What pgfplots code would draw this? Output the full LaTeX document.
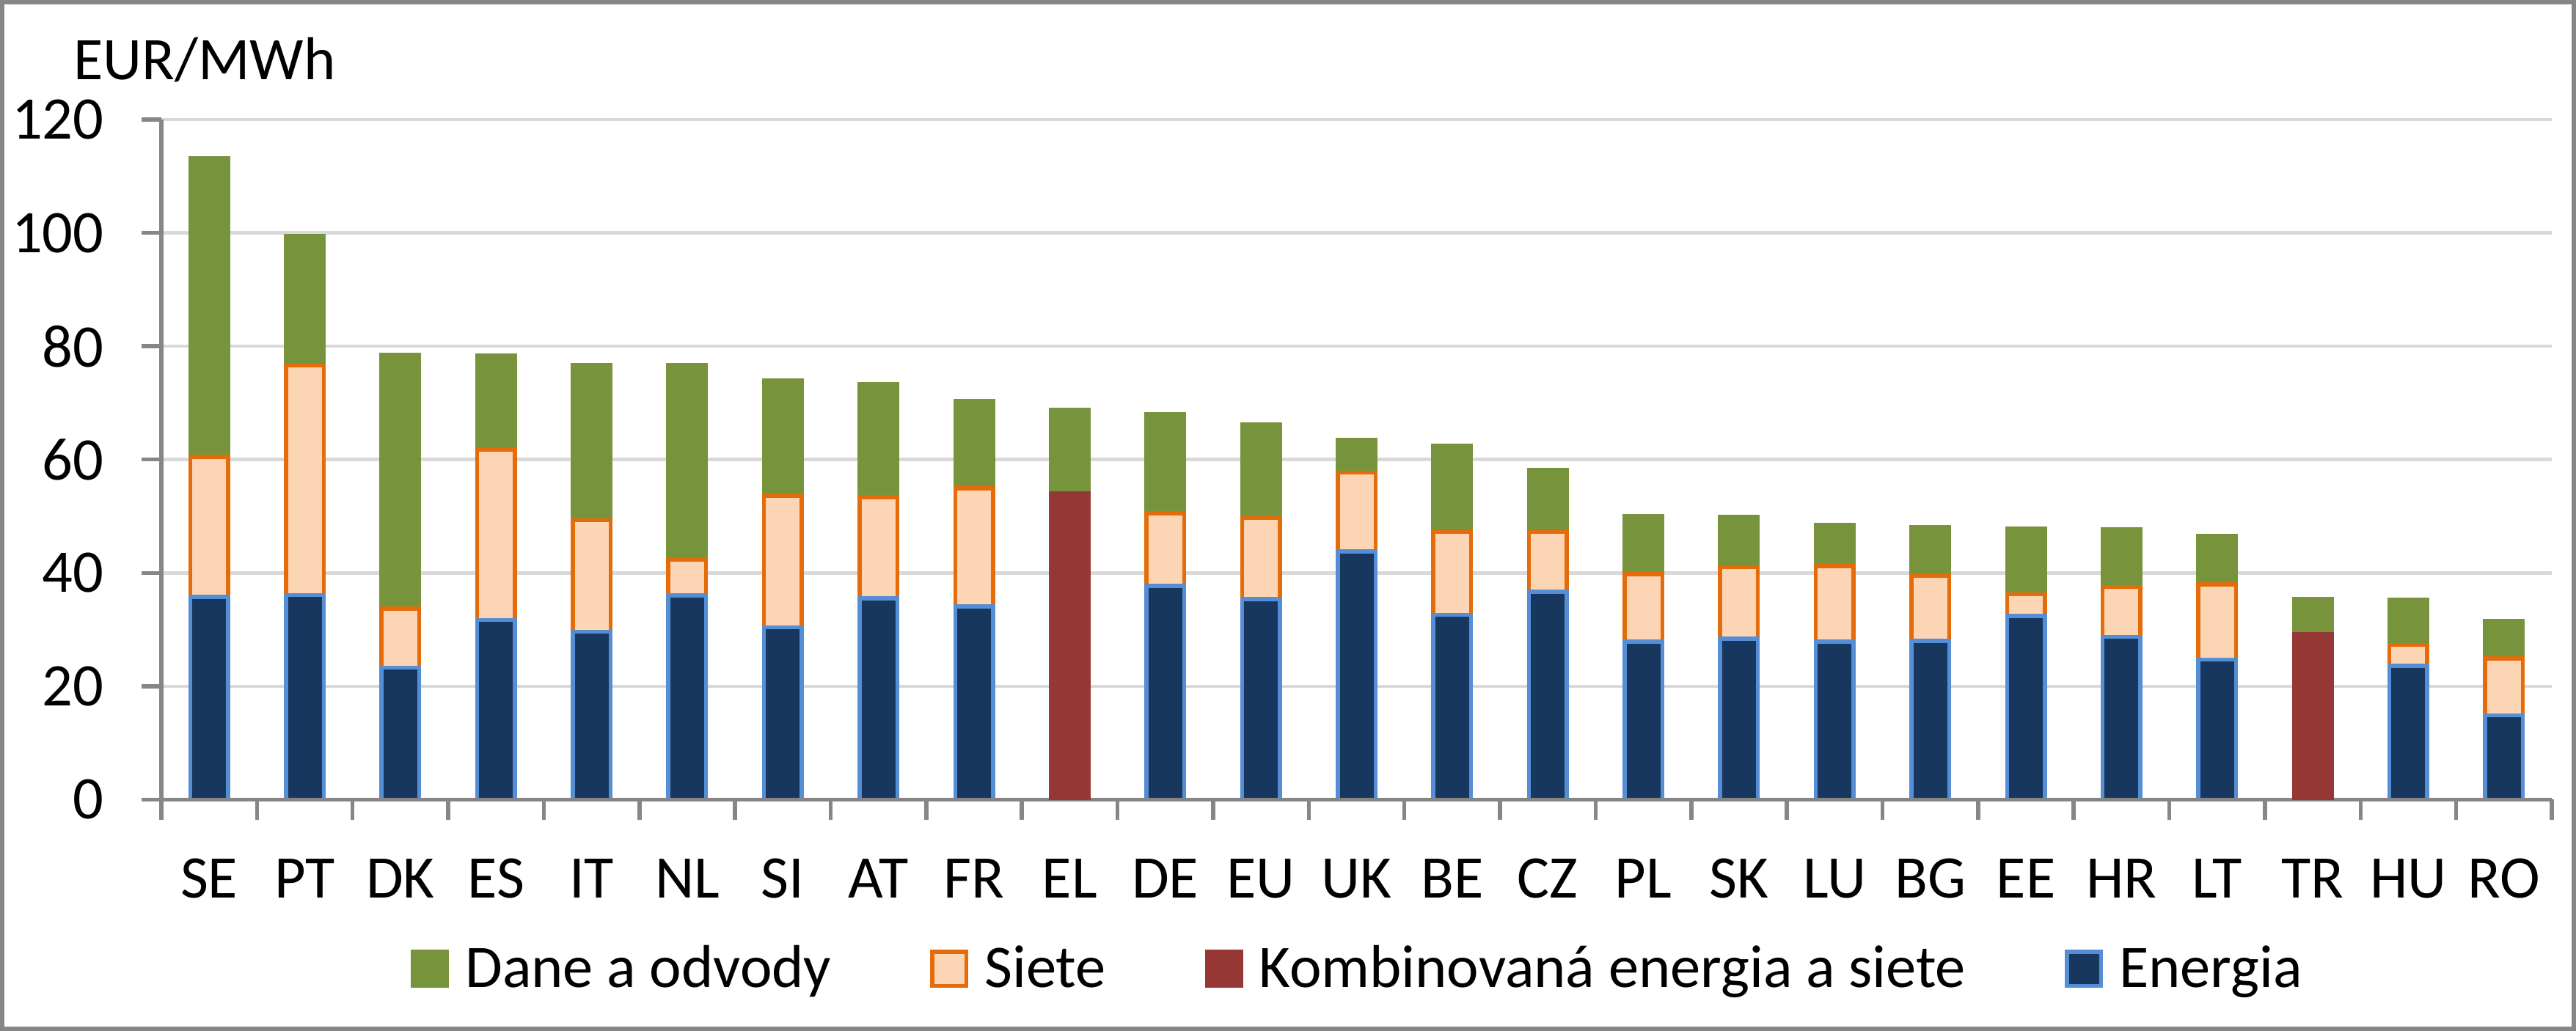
\documentclass[border=0pt]{standalone}
\usepackage{pgfplots}
\pgfplotsset{compat=1.18}
\usepackage{pgfplotstable}
\usepackage{fontspec}
\setmainfont{Carlito}
\definecolor{dgreen}{HTML}{77933C}
\definecolor{peach}{HTML}{FCD5B5}
\definecolor{dorange}{HTML}{E46C0A}
\definecolor{dred}{HTML}{953735}
\definecolor{navy}{HTML}{17375E}
\definecolor{lblue}{HTML}{558ED5}
\definecolor{axisgray}{HTML}{868686}
\definecolor{gridgray}{HTML}{D9D9D9}

% x E(Energia) S(Siete) D(Dane a odvody)
\pgfplotstableread{
x E S D
0 35.8 24.7 52.7
1 36.1 40.5 22.9
2 23.3 10.4 44.8
3 31.7 30.1 16.6
4 29.6 19.7 27.4
5 36.0 6.3 34.4
6 30.4 23.2 20.4
7 35.5 17.9 19.9
8 34.1 20.8 15.4
10 37.7 12.8 17.5
11 35.4 14.3 16.5
12 43.8 13.9 5.8
13 32.6 14.6 15.2
14 36.7 10.5 11.0
15 27.9 11.9 10.2
16 28.4 12.6 8.9
17 27.9 13.3 7.3
18 28.0 11.5 8.6
19 32.4 3.8 11.6
20 28.7 8.8 10.2
21 24.7 13.3 8.5
23 23.6 3.7 8.0
24 14.9 10.0 6.6
}\mainT
% x K(Kombinovana energia a siete) D(Dane a odvody)
\pgfplotstableread{
x K D
9 54.1 14.7
22 29.2 6.2
}\combT

\begin{document}
\begin{tikzpicture}[font=\fontsize{16.5}{19.8}\selectfont]
\draw[axisgray, line width=1.2pt] (0.6pt,0.6pt) rectangle (701.8pt,280.6pt);
\pgfplotsset{common/.style={scale only axis, width=651.8pt, height=185.5pt,
  at={(44pt,63.1pt)}, anchor=south west, xmin=-0.5, xmax=24.5, ymin=0, ymax=120,
  ybar stacked, bar width=10.3pt}}
\begin{axis}[common,
  axis x line*=bottom, axis y line*=left,
  axis line style={axisgray, line width=1.1pt},
  tick style={axisgray, line width=1.1pt},
  major tick length=5.4pt, tick align=outside,
  ytick={0,20,...,120}, ymajorgrids, grid style={gridgray, line width=0.9pt},
  /pgf/number format/assume math mode=true,
  yticklabel style={anchor=east, inner sep=0pt, xshift=-10.1pt},
  xtick={-0.5,0.5,...,24.5}, xticklabels={},
  extra x ticks={0,1,...,24},
  extra x tick labels={SE,PT,DK,ES,IT,NL,SI,AT,FR,EL,DE,EU,UK,BE,CZ,PL,SK,LU,BG,EE,HR,LT,TR,HU,RO},
  extra x tick style={major tick length=0pt, grid=none, xticklabel style={anchor=base, inner sep=0pt, yshift=-26.7pt}},
  legend columns=4,
  legend style={draw=none, fill=none, at={(0.5,0)}, anchor=north, yshift=-39.5pt, inner sep=0pt,
    nodes={inner sep=0pt},
    /tikz/every odd column/.append style={column sep=4.4pt},
    /tikz/every even column/.append style={column sep=27pt}},
  ]
\addplot[forget plot, fill=navy, draw=lblue, line width=1.1pt] table[x=x,y=E]{\mainT};
\addplot[forget plot, fill=peach, draw=dorange, line width=1.1pt] table[x=x,y=S]{\mainT};
\addplot[forget plot, fill=dgreen, draw=dgreen, line width=1.1pt] table[x=x,y=D]{\mainT};
\addlegendimage{legend image code/.code={\draw[draw=dgreen, fill=dgreen, line width=1.1pt] (0.55pt,-4.65pt) rectangle (9.85pt,4.65pt);}}
\addlegendentry{Dane a odvody}
\addlegendimage{legend image code/.code={\draw[draw=dorange, fill=peach, line width=1.1pt] (0.55pt,-4.65pt) rectangle (9.85pt,4.65pt);}}
\addlegendentry{Siete}
\addlegendimage{legend image code/.code={\draw[draw=dred, fill=dred, line width=1.1pt] (0.55pt,-4.65pt) rectangle (9.85pt,4.65pt);}}
\addlegendentry{Kombinovaná energia a siete}
\addlegendimage{legend image code/.code={\draw[draw=lblue, fill=navy, line width=1.1pt] (0.55pt,-4.65pt) rectangle (9.85pt,4.65pt);}}
\addlegendentry{Energia}
\end{axis}
\begin{axis}[common, hide axis]
\addplot[fill=dred, draw=dred, line width=1.1pt] table[x=x,y=K]{\combT};
\addplot[fill=dgreen, draw=dgreen, line width=1.1pt] table[x=x,y=D]{\combT};
\draw[axisgray, line width=1.1pt] (rel axis cs:0,0) -- (rel axis cs:1,0);
\end{axis}
\node[anchor=base west, inner sep=0pt] at (19.9pt,259.5pt) {EUR/MWh};
\pgfresetboundingbox
\useasboundingbox (0,0) rectangle (702.4pt,281.2pt);
\end{tikzpicture}
\end{document}
